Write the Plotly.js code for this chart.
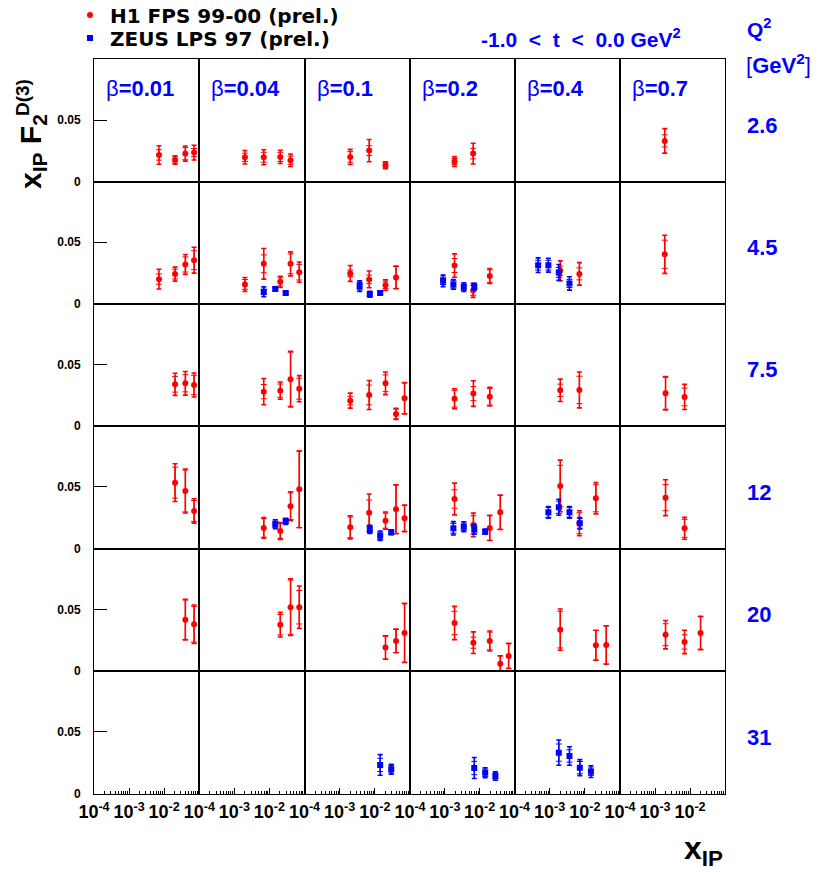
<!DOCTYPE html>
<html><head><meta charset="utf-8">
<script src="https://cdn.plot.ly/plotly-3.0.1.min.js"></script>
<style>html,body{margin:0;padding:0;background:#fff}</style>
</head><body><div id="chart" style="width:819px;height:872px"></div>
<script>
// ---------- categories / labels ----------
const betaBins = [0.01, 0.04, 0.1, 0.2, 0.4, 0.7];
const betaLabels = ['0.01', '0.04', '0.1', '0.2', '0.4', '0.7'];
const q2Bins = [2.6, 4.5, 7.5, 12, 20, 31];
const q2Labels = ['2.6', '4.5', '7.5', '12', '20', '31'];
const xTickVals = [1e-4, 1e-3, 1e-2];
const xTickText = ['10<sup>-4</sup>', '10<sup>-3</sup>', '10<sup>-2</sup>'];
const yTickVals = [0, 0.05];
const yTickText = ['0', '0.05'];

// ---------- H1 FPS 99-00 (prel.) ----------
const h1Q2 = [
  2.6,2.6,2.6,2.6, 2.6,2.6,2.6,2.6, 2.6,2.6,2.6, 2.6,2.6, 2.6,
  4.5,4.5,4.5,4.5, 4.5,4.5,4.5,4.5,4.5, 4.5,4.5,4.5,4.5, 4.5,4.5,4.5, 4.5,4.5, 4.5,
  7.5,7.5,7.5, 7.5,7.5,7.5,7.5, 7.5,7.5,7.5,7.5,7.5, 7.5,7.5,7.5, 7.5,7.5, 7.5,7.5,
  12,12,12, 12,12,12,12, 12,12,12,12,12, 12,12,12,12, 12,12,12, 12,12,
  20,20, 20,20,20, 20,20,20, 20,20,20,20,20, 20,20,20, 20,20,20
];
const h1Beta = [
  0.01,0.01,0.01,0.01, 0.04,0.04,0.04,0.04, 0.1,0.1,0.1, 0.2,0.2, 0.7,
  0.01,0.01,0.01,0.01, 0.04,0.04,0.04,0.04,0.04, 0.1,0.1,0.1,0.1, 0.2,0.2,0.2, 0.4,0.4, 0.7,
  0.01,0.01,0.01, 0.04,0.04,0.04,0.04, 0.1,0.1,0.1,0.1,0.1, 0.2,0.2,0.2, 0.4,0.4, 0.7,0.7,
  0.01,0.01,0.01, 0.04,0.04,0.04,0.04, 0.1,0.1,0.1,0.1,0.1, 0.2,0.2,0.2,0.2, 0.4,0.4,0.4, 0.7,0.7,
  0.01,0.01, 0.04,0.04,0.04, 0.1,0.1,0.1, 0.2,0.2,0.2,0.2,0.2, 0.4,0.4,0.4, 0.7,0.7,0.7
];
const h1X = [
  0.0071,0.0204,0.040,0.071, 0.0020,0.0069,0.0204,0.040, 0.0020,0.0069,0.0201, 0.0019,0.0065, 0.0019,
  0.0071,0.0204,0.040,0.071, 0.0020,0.0069,0.0204,0.040,0.071, 0.0020,0.0069,0.0201,0.040, 0.0019,0.0065,0.0195, 0.0020,0.0070, 0.0019,
  0.0204,0.040,0.071, 0.0069,0.0204,0.040,0.071, 0.0020,0.0069,0.0201,0.040,0.070, 0.0019,0.0066,0.0195, 0.0020,0.0070, 0.0020,0.0070,
  0.0204,0.040,0.071, 0.0069,0.0204,0.040,0.071, 0.0020,0.0069,0.0201,0.040,0.070, 0.0019,0.0066,0.0195,0.039, 0.0020,0.0070,0.0206, 0.0020,0.0070,
  0.040,0.071, 0.0204,0.040,0.071, 0.0201,0.040,0.070, 0.0019,0.0066,0.0195,0.039,0.068, 0.0020,0.0206,0.0406, 0.0020,0.0070,0.020
];
const h1F = [
  0.0217,0.0176,0.0228,0.0236, 0.0198,0.0198,0.0201,0.0174, 0.0201,0.0252,0.0133, 0.0163,0.0228, 0.0331,
  0.0199,0.0240,0.0319,0.0354, 0.0156,0.0324,0.0177,0.0324,0.0256, 0.0246,0.0197,0.0150,0.0213, 0.0310,0.0107,0.0224, 0.0267,0.0242, 0.0402,
  0.0339,0.0347,0.0333, 0.0279,0.0287,0.0380,0.0303, 0.0206,0.0252,0.0347,0.0098,0.0225, 0.0222,0.0263,0.0238, 0.0290,0.0293, 0.0266,0.0236,
  0.0535,0.0467,0.0305, 0.0167,0.0142,0.0343,0.0481, 0.0172,0.0291,0.0226,0.0319,0.0245, 0.0402,0.0191,0.0167,0.0294, 0.0508,0.0205,0.0408, 0.0413,0.0164,
  0.0417,0.0380, 0.0376,0.0518,0.0518, 0.0190,0.0244,0.0309, 0.0390,0.0230,0.0244,0.0059,0.0122, 0.0336,0.0209,0.0211, 0.0295,0.0236,0.0309
];
const h1Stat = [
  0.0042,0.0025,0.0050,0.0033, 0.0033,0.0040,0.0037,0.0033, 0.0043,0.0040,0.0020, 0.0025,0.0043, 0.0049,
  0.0042,0.0040,0.0062,0.0077, 0.0040,0.0073,0.0033,0.0081,0.0064, 0.0027,0.0035,0.0027,0.0090, 0.0057,0.0040,0.0051, 0.0040,0.0049, 0.0115,
  0.0064,0.0070,0.0079, 0.0058,0.0054,0.0220,0.0085, 0.0035,0.0080,0.0068,0.0040,0.0125, 0.0068,0.0057,0.0068, 0.0050,0.0111, 0.0130,0.0072,
  0.0126,0.0170,0.0085, 0.0075,0.0060,0.0108,0.0310, 0.0084,0.0103,0.0061,0.0197,0.0106, 0.0075,0.0075,0.0100,0.0138, 0.0168,0.0085,0.0110, 0.0106,0.0073,
  0.0160,0.0145, 0.0083,0.0220,0.0136, 0.0093,0.0094,0.0238, 0.0095,0.0045,0.0072,0.0063,0.0100, 0.0149,0.0120,0.0154, 0.0089,0.0058,0.0133
];
const h1Tot = [
  0.0075,0.0035,0.0061,0.0060, 0.0055,0.0061,0.0054,0.0051, 0.0061,0.0090,0.0028, 0.0040,0.0084, 0.0099,
  0.0081,0.0057,0.0081,0.0106, 0.0057,0.0125,0.0046,0.0098,0.0083, 0.0065,0.0068,0.0043,0.0092, 0.0095,0.0057,0.0061, 0.0081,0.0092, 0.0156,
  0.0090,0.0096,0.0098, 0.0107,0.0070,0.0226,0.0106, 0.0061,0.0118,0.0092,0.0045,0.0127, 0.0081,0.0104,0.0076, 0.0091,0.0146, 0.0135,0.0102,
  0.0153,0.0179,0.0099, 0.0084,0.0068,0.0118,0.0312, 0.0094,0.0152,0.0070,0.0199,0.0108, 0.0129,0.0096,0.0102,0.0140, 0.0210,0.0102,0.0127, 0.0146,0.0089,
  0.0165,0.0156, 0.0100,0.0230,0.0172, 0.0095,0.0096,0.0240, 0.0135,0.0088,0.0081,0.0065,0.0102, 0.0167,0.0122,0.0156, 0.0115,0.0095,0.0135
];

// ---------- ZEUS LPS 97 (prel.) ----------
const zeusQ2 = [
  4.5,4.5,4.5, 4.5,4.5,4.5, 4.5,4.5,4.5,4.5, 4.5,4.5,4.5,4.5,
  12,12, 12,12,12, 12,12,12,12, 12,12,12,12,
  31,31, 31,31,31, 31,31,31,31
];
const zeusBeta = [
  0.04,0.04,0.04, 0.1,0.1,0.1, 0.2,0.2,0.2,0.2, 0.4,0.4,0.4,0.4,
  0.04,0.04, 0.1,0.1,0.1, 0.2,0.2,0.2,0.2, 0.4,0.4,0.4,0.4,
  0.1,0.1, 0.2,0.2,0.2, 0.4,0.4,0.4,0.4
];
const zeusX = [
  0.0069,0.0147,0.0291, 0.0037,0.0072,0.0142, 0.00089,0.00176,0.0035,0.0070, 0.00047,0.00092,0.00182,0.00366,
  0.0147,0.0291, 0.0072,0.0142,0.0293, 0.00176,0.0035,0.0070,0.0144, 0.00092,0.00182,0.00366,0.0072,
  0.0142,0.0293, 0.0070,0.0144,0.0283, 0.00182,0.00366,0.0072,0.0149
];
const zeusF = [
  0.0096,0.0118,0.0085, 0.0142,0.0075,0.0085, 0.0185,0.0156,0.0134,0.0137, 0.0313,0.0313,0.0254,0.0164,
  0.0197,0.0221, 0.0156,0.0104,0.0132, 0.0164,0.0177,0.0156,0.0137, 0.0294,0.0335,0.0294,0.0205,
  0.0232,0.0197, 0.0207,0.0169,0.0142, 0.0332,0.0305,0.0210,0.0177
];
const zeusStat = [
  0.0020,0.0012,0.0010, 0.0030,0.0015,0.0012, 0.0030,0.0030,0.0025,0.0020, 0.0040,0.0040,0.0040,0.0033,
  0.0025,0.0020, 0.0025,0.0030,0.0015, 0.0040,0.0030,0.0030,0.0015, 0.0040,0.0050,0.0040,0.0040,
  0.0054,0.0030, 0.0054,0.0030,0.0025, 0.0070,0.0050,0.0050,0.0030
];
const zeusTot = [
  0.0040,0.0015,0.0012, 0.0043,0.0024,0.0016, 0.0047,0.0040,0.0035,0.0028, 0.0060,0.0057,0.0065,0.0055,
  0.0037,0.0025, 0.0033,0.0038,0.0020, 0.0054,0.0040,0.0040,0.0020, 0.0047,0.0065,0.0047,0.0047,
  0.0084,0.0040, 0.0085,0.0040,0.0034, 0.0102,0.0075,0.0065,0.0047
];

// ---------- geometry (pixels of the 819x872 page) ----------
const W = 819, H = 872;
const colEdges = [94, 199.3, 304.5, 410, 514.5, 620, 725];
const rowEdges = [59, 181.7, 303.5, 426, 548.5, 671, 793.5];
const FONT = 'Liberation Sans, Arial, Helvetica, sans-serif';
const LEGFONT = 'DejaVu Sans, Liberation Sans, sans-serif';
const RED = '#ff0000', BLUE = '#0000ff';

const minorVals = [];
for (let e = -4; e < -1; e++) for (let m = 2; m <= 9; m++) minorVals.push(m * Math.pow(10, e));

const legendCommon = {xanchor: 'left', yanchor: 'middle', bgcolor: 'rgba(0,0,0,0)',
  borderwidth: 0, tracegroupgap: 0, itemwidth: 30,
  font: {family: LEGFONT, size: 20, weight: 'bold', color: '#000'}};
const layout = {
  width: W, height: H,
  margin: {l: 0, r: 0, t: 0, b: 0, autoexpand: false},
  paper_bgcolor: '#fff', plot_bgcolor: '#fff',
  showlegend: true,
  legend: Object.assign({x: 70 / W, y: 1 - 15 / H}, legendCommon),
  legend2: Object.assign({x: 70 / W, y: 1 - 38 / H}, legendCommon),
  annotations: [],
  font: {family: FONT}
};

const traces = [];
// one empty trace per panel so that every frame is drawn
for (let k = 1; k <= 36; k++) {
  traces.push({type: 'scatter', mode: 'markers', x: [], y: [],
    xaxis: k === 1 ? 'x' : 'x' + k, yaxis: k === 1 ? 'y' : 'y' + k,
    showlegend: false, hoverinfo: 'skip'});
}
function addSeries(name, legendId, q2A, betaA, xA, fA, statA, totA, color, symbol, msize) {
  let first = true;
  q2Bins.forEach((q2, r) => {
    betaBins.forEach((b, c) => {
      const idx = [];
      q2A.forEach((v, i) => { if (v === q2 && betaA[i] === b) idx.push(i); });
      if (!idx.length) return;
      const k = r * 6 + c + 1;
      const xa = k === 1 ? 'x' : 'x' + k, ya = k === 1 ? 'y' : 'y' + k;
      const xs = idx.map(i => xA[i]), ys = idx.map(i => fA[i]);
      traces.push({
        type: 'scatter', mode: 'markers', xaxis: xa, yaxis: ya, x: xs, y: ys,
        marker: {size: msize, color: color, symbol: symbol, opacity: 0},
        error_y: {type: 'data', array: idx.map(i => totA[i]), visible: true,
                  color: color, thickness: 1.6, width: 2.5},
        showlegend: false, hoverinfo: 'skip'
      });
      traces.push({
        type: 'scatter', mode: 'markers', xaxis: xa, yaxis: ya, x: xs, y: ys,
        name: name, legendgroup: name, legend: legendId,
        marker: {size: msize, color: color, symbol: symbol, line: {width: 0}},
        error_y: {type: 'data', array: idx.map(i => statA[i]), visible: true,
                  color: color, thickness: 1, width: 3},
        showlegend: first
      });
      first = false;
    });
  });
}
addSeries('H1 FPS 99-00 (prel.)', 'legend', h1Q2, h1Beta, h1X, h1F, h1Stat, h1Tot, RED, 'circle', 6);
addSeries('ZEUS LPS 97 (prel.)', 'legend2', zeusQ2, zeusBeta, zeusX, zeusF, zeusStat, zeusTot, BLUE, 'square', 6);

for (let r = 0; r < 6; r++) {
  for (let c = 0; c < 6; c++) {
    const k = r * 6 + c + 1;
    const s = k === 1 ? '' : String(k);
    const bottom = r === 5, left = c === 0;
    layout['xaxis' + s] = {
      type: 'log', range: [-4, -1],
      domain: [colEdges[c] / W, colEdges[c + 1] / W],
      anchor: 'y' + s, showline: true, mirror: true, linecolor: '#000', linewidth: 1,
      showgrid: false, zeroline: false, fixedrange: true,
      tickmode: 'array', tickvals: xTickVals, ticktext: xTickText, tickangle: 0,
      ticks: bottom ? 'inside' : '', ticklen: 6, tickwidth: 1, tickcolor: '#000',
      showticklabels: bottom, ticklabelstandoff: 2,
      tickfont: {family: FONT, size: 18, weight: 'bold', color: '#000'},
      minor: bottom ? {tickmode: 'array', tickvals: minorVals, ticks: 'inside', ticklen: 3,
                       tickwidth: 1, tickcolor: '#000', showgrid: false} : {ticks: ''}
    };
    layout['yaxis' + s] = {
      range: [0, 0.0995],
      domain: [1 - rowEdges[r + 1] / H, 1 - rowEdges[r] / H],
      anchor: 'x' + s, showline: true, mirror: true, linecolor: '#000', linewidth: 1,
      showgrid: false, zeroline: false, fixedrange: true,
      tickmode: 'array', tickvals: yTickVals, ticktext: yTickText,
      ticks: left ? 'inside' : '', ticklen: 13, tickwidth: 1, tickcolor: '#000',
      showticklabels: left, ticklabelstandoff: 10,
      tickfont: {family: FONT, size: 12, weight: 'bold', color: '#000'}
    };
  }
}

const ann = layout.annotations;
function paperAnn(text, px, py, opts) {
  ann.push(Object.assign({
    text: text, xref: 'paper', yref: 'paper', x: px / W, y: 1 - py / H,
    showarrow: false, xanchor: 'left', yanchor: 'middle',
    font: {family: FONT, size: 22, weight: 'bold', color: BLUE}
  }, opts || {}));
}
betaLabels.forEach((b, c) => {
  paperAnn('<span style="font-weight:normal">β</span>=' + b, colEdges[c] + 10, 88);
});
q2Labels.forEach((q, r) => {
  paperAnn(q, 745, (rowEdges[r] + rowEdges[r + 1]) / 2 + 5);
});
paperAnn('Q<sup>2</sup>', 745, 28, {font: {family: FONT, size: 21, weight: 'bold', color: BLUE}});
paperAnn('<span style="font-weight:normal">[</span>GeV<sup>2</sup><span style="font-weight:normal">]</span>', 744, 64,
         {font: {family: FONT, size: 22, weight: 'bold', color: BLUE}});
paperAnn('-1.0&nbsp; &lt; &nbsp;t&nbsp; &lt; &nbsp;0.0 GeV<sup>2</sup>', 479, 38,
         {font: {family: FONT, size: 21, weight: 'bold', color: BLUE}});
// axis titles
paperAnn('x<sub>IP</sub> F<sub>2</sub>', 32, 152,
         {xanchor: 'center', textangle: -90, font: {family: FONT, size: 30, weight: 'bold', color: '#000'}});
paperAnn('D(3)', 22, 98,
         {xanchor: 'center', textangle: -90, font: {family: FONT, size: 19, weight: 'bold', color: '#000'}});
paperAnn('x<sub>IP</sub>', 682, 850,
         {font: {family: FONT, size: 32, weight: 'bold', color: '#000'}});

Plotly.newPlot('chart', traces, layout, {staticPlot: true, displayModeBar: false});
</script>
</body></html>
